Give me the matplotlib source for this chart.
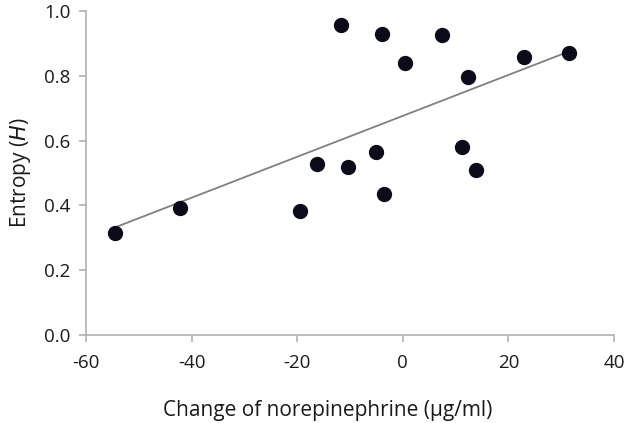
import numpy as np
import matplotlib
matplotlib.use('Agg')
import matplotlib.pyplot as plt

plt.rcParams['font.family'] = ['Open Sans', 'DejaVu Sans']
plt.rcParams['axes.unicode_minus'] = False

# change of norepinephrine (ug/ml) vs entropy H
ne_change = [-54.5, -42.2, -19.4, -16.3, -11.7, -10.3, -5.0, -3.9, -3.6,
             0.4, 7.4, 11.3, 12.3, 13.9, 23.0, 31.4]
entropy = [0.316, 0.391, 0.382, 0.528, 0.957, 0.518, 0.565, 0.928, 0.434,
           0.838, 0.926, 0.579, 0.797, 0.509, 0.859, 0.869]

x_ticks = [-60, -40, -20, 0, 20, 40]
y_ticks = [0.0, 0.2, 0.4, 0.6, 0.8, 1.0]

x = np.array(ne_change)
y = np.array(entropy)
slope, icept = np.polyfit(x, y, 1)

fig = plt.figure(figsize=(6.3, 4.23), dpi=100)
ax = fig.add_axes([0.1365, 0.208, 0.838, 0.766])

xx = np.array([x.min(), x.max()])
ax.plot(xx, slope * xx + icept, color='#808080', lw=1.3, zorder=2)
ax.plot(x, y, 'o', color='#0b0b1a', markersize=10, zorder=3)

ax.set_xlim(-60, 40)
ax.set_ylim(0, 1.0)
ax.set_xticks(x_ticks)
ax.set_yticks(y_ticks)
ax.set_yticklabels(['%.1f' % v for v in y_ticks])

for s in ['top', 'right']:
    ax.spines[s].set_visible(False)
for s in ['left', 'bottom']:
    ax.spines[s].set_color('#b0b0b0')
    ax.spines[s].set_linewidth(1.2)
ax.tick_params(colors='#b0b0b0', labelcolor='#1a1a1a', labelsize=13.5,
               length=5, width=1.2, direction='out')
ax.tick_params(axis='x', pad=9)
ax.tick_params(axis='y', pad=6)

ax.set_xlabel('Change of norepinephrine (µg/ml)', fontsize=15, color='#1a1a1a')
ax.xaxis.set_label_coords(0.458, -0.2)
ax.set_ylabel('Entropy ($\\mathit{H}$)', fontsize=15, color='#1a1a1a', labelpad=8)

fig.savefig('out.png', dpi=100)
